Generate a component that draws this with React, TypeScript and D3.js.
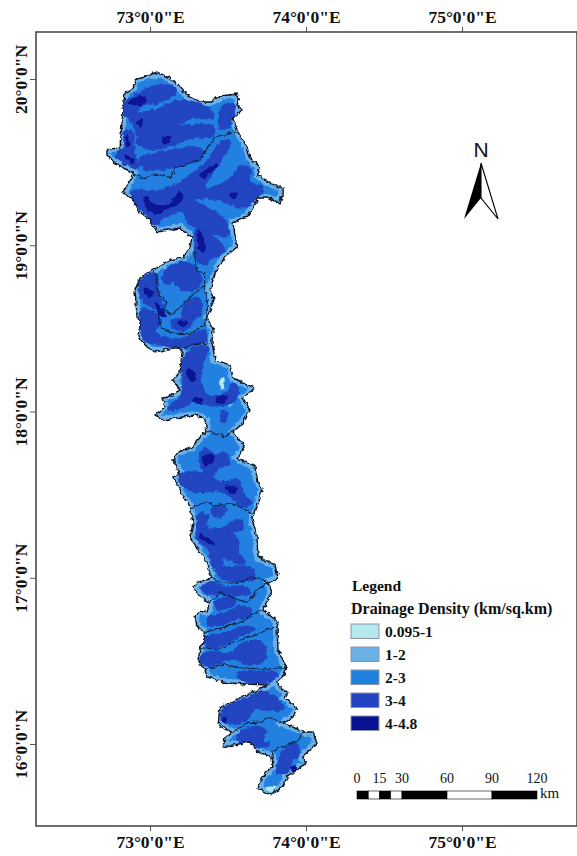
import React, { useEffect, useRef } from 'react';
import * as d3 from 'd3';

type Pt = [number, number];

const lonTicks = [73, 74, 75];
const latTicks = [20, 19, 18, 17, 16];

const legendLabels = ['0.095-1', '1-2', '2-3', '3-4', '4-4.8'];
const legendColors = ['#b6e9ee', '#6cb0e8', '#2080e0', '#2244c2', '#0a1294'];

const scaleKm = [0, 15, 30, 60, 90, 120];
const scaleSegments: [number, number][] = [[0, 7.5], [7.5, 15], [15, 22.5], [22.5, 30], [30, 60], [60, 90], [90, 120]];

// digitised study area outline, lon/lat
const basinOutline: Pt[] = [
  [73.045, 20.042], [73.128, 20.006], [73.179, 19.964], [73.237, 19.904], [73.321, 19.862], [73.385, 19.862],
  [73.449, 19.898], [73.558, 19.91], [73.577, 19.886], [73.558, 19.844], [73.59, 19.814], [73.532, 19.765],
  [73.564, 19.681], [73.622, 19.591], [73.641, 19.525], [73.705, 19.471], [73.692, 19.423], [73.769, 19.374],
  [73.853, 19.344], [73.853, 19.302], [73.833, 19.254], [73.75, 19.284], [73.692, 19.284], [73.66, 19.224],
  [73.622, 19.17], [73.532, 19.134], [73.558, 18.989], [73.481, 18.929], [73.417, 18.833], [73.385, 18.731],
  [73.41, 18.671], [73.365, 18.568], [73.404, 18.49], [73.397, 18.418], [73.417, 18.31], [73.513, 18.28],
  [73.532, 18.201], [73.673, 18.141], [73.596, 18.081], [73.641, 18.009], [73.596, 17.931], [73.532, 17.877],
  [73.609, 17.786], [73.558, 17.72], [73.673, 17.666], [73.692, 17.57], [73.724, 17.54], [73.673, 17.389],
  [73.654, 17.359], [73.686, 17.245], [73.692, 17.125], [73.801, 17.077], [73.821, 16.998], [73.756, 16.968],
  [73.782, 16.914], [73.75, 16.854], [73.724, 16.806], [73.821, 16.734], [73.814, 16.698], [73.821, 16.565],
  [73.878, 16.457], [73.846, 16.397], [73.814, 16.373], [73.846, 16.325], [73.885, 16.313], [73.865, 16.277],
  [73.942, 16.217], [73.917, 16.162], [73.853, 16.126], [73.994, 16.072], [74.045, 16.072], [74.071, 16.006],
  [73.974, 15.922], [74.006, 15.886], [73.878, 15.802], [73.846, 15.741], [73.769, 15.693], [73.692, 15.735],
  [73.737, 15.826], [73.788, 15.862], [73.782, 15.922], [73.692, 15.952], [73.641, 16.012], [73.468, 15.982],
  [73.481, 16.042], [73.526, 16.072], [73.436, 16.114], [73.449, 16.223], [73.596, 16.283], [73.75, 16.355],
  [73.494, 16.367], [73.365, 16.403], [73.353, 16.445], [73.308, 16.505], [73.321, 16.577], [73.353, 16.637],
  [73.34, 16.673], [73.301, 16.716], [73.288, 16.764], [73.321, 16.806], [73.365, 16.794], [73.385, 16.854],
  [73.321, 16.884], [73.276, 16.944], [73.308, 16.974], [73.397, 16.998], [73.353, 17.107], [73.256, 17.245],
  [73.276, 17.329], [73.256, 17.426], [73.212, 17.486], [73.147, 17.606], [73.192, 17.63], [73.147, 17.708],
  [73.179, 17.756], [73.269, 17.786], [73.333, 17.859], [73.365, 17.877], [73.353, 17.949], [73.288, 17.979],
  [73.173, 17.961], [73.083, 17.949], [73.032, 17.979], [73.096, 18.027], [73.077, 18.081], [73.109, 18.087],
  [73.192, 18.129], [73.147, 18.189], [73.192, 18.238], [73.205, 18.352], [73.192, 18.382], [73.147, 18.382],
  [73.032, 18.358], [72.981, 18.388], [72.923, 18.448], [72.936, 18.532], [72.917, 18.568], [72.904, 18.731],
  [72.936, 18.803], [73.019, 18.851], [73.128, 18.911], [73.212, 18.929], [73.256, 18.983], [73.269, 19.05],
  [73.192, 19.104], [73.045, 19.08], [73, 19.152], [72.936, 19.2], [72.885, 19.284], [72.827, 19.314],
  [72.872, 19.392], [72.891, 19.435], [72.763, 19.501], [72.724, 19.543], [72.724, 19.573], [72.808, 19.591],
  [72.827, 19.814], [72.84, 19.916], [72.891, 19.946], [72.904, 19.994],
];

const subbasinBoundaries: Pt[][] = [
  [[72.89, 19.43], [72.96, 19.4], [73.02, 19.43], [73.13, 19.41], [73.17, 19.47], [73.32, 19.51], [73.37, 19.59], [73.42, 19.65], [73.53, 19.68], [73.56, 19.68]],
  [[73.28, 18.97], [73.3, 18.85], [73.35, 18.83], [73.35, 18.76], [73.26, 18.69], [73.14, 18.58], [73.08, 18.61], [73.11, 18.66], [73.05, 18.71], [73.04, 18.81], [73.02, 18.85]],
  [[73.08, 18.61], [73.05, 18.55], [73.08, 18.5], [73.15, 18.47], [73.26, 18.47], [73.35, 18.52], [73.37, 18.67], [73.35, 18.76]],
  [[73.19, 18.37], [73.3, 18.41], [73.4, 18.41]],
  [[73.37, 17.88], [73.45, 17.86], [73.49, 17.85], [73.53, 17.89]],
  [[73.26, 17.42], [73.37, 17.46], [73.4, 17.43], [73.53, 17.45], [73.64, 17.39], [73.67, 17.39]],
  [[73.4, 17.0], [73.45, 16.97], [73.56, 16.97], [73.64, 17.0], [73.69, 17.0], [73.76, 16.97]],
  [[73.38, 16.85], [73.45, 16.91], [73.53, 16.88], [73.63, 16.85], [73.69, 16.93], [73.76, 16.97]],
  [[73.34, 16.67], [73.47, 16.7], [73.6, 16.74], [73.71, 16.81]],
  [[73.32, 16.58], [73.45, 16.57], [73.53, 16.61], [73.66, 16.65], [73.79, 16.7], [73.81, 16.7]],
  [[73.35, 16.45], [73.48, 16.48], [73.56, 16.46], [73.71, 16.45], [73.88, 16.46]],
  [[73.53, 16.07], [73.63, 16.13], [73.71, 16.13], [73.77, 16.16], [73.85, 16.13]],
  [[73.78, 15.92], [73.79, 15.96], [73.93, 16.01], [73.99, 16.07]],
];

// 3-4 km/sq.km zones
const class34Zones: Pt[][] = [
  [[72.85, 19.86], [72.92, 19.9], [73.02, 19.95], [73.15, 19.95], [73.16, 19.92], [73.08, 19.87], [72.94, 19.84], [72.88, 19.77], [72.84, 19.8]],
  [[72.87, 19.77], [73.04, 19.81], [73.17, 19.86], [73.26, 19.86], [73.38, 19.81], [73.4, 19.77], [73.26, 19.77], [73.15, 19.71], [72.94, 19.65], [72.89, 19.74]],
  [[73.13, 19.68], [73.19, 19.71], [73.4, 19.71], [73.4, 19.66], [73.26, 19.65], [73.13, 19.6], [72.96, 19.59], [72.92, 19.63]],
  [[72.94, 19.52], [73.11, 19.56], [73.32, 19.58], [73.33, 19.53], [73.24, 19.5], [73.13, 19.47], [72.98, 19.46], [72.94, 19.49]],
  [[72.84, 19.68], [72.88, 19.68], [72.89, 19.59], [72.9, 19.53], [72.92, 19.47], [72.85, 19.49], [72.79, 19.54], [72.84, 19.59]],
  [[73.47, 19.83], [73.53, 19.84], [73.53, 19.78], [73.49, 19.71], [73.45, 19.71]],
  [[72.89, 19.32], [73.04, 19.32], [73.19, 19.37], [73.28, 19.43], [73.38, 19.51], [73.46, 19.62], [73.51, 19.62], [73.45, 19.51], [73.38, 19.42], [73.35, 19.34], [73.51, 19.39], [73.58, 19.47], [73.64, 19.45], [73.63, 19.38], [73.72, 19.34], [73.66, 19.27], [73.58, 19.23], [73.47, 19.27], [73.34, 19.29], [73.26, 19.27], [73.34, 19.23], [73.47, 19.15], [73.5, 19.07], [73.43, 19.07], [73.34, 19.09], [73.24, 19.15], [73.21, 19.21], [73.08, 19.17], [73.04, 19.13], [72.98, 19.19], [72.92, 19.25]],
  [[73.3, 19.09], [73.4, 19.05], [73.47, 18.97], [73.4, 18.93], [73.35, 18.89], [73.31, 18.91], [73.29, 19.01]],
  [[72.94, 18.78], [73.03, 18.82], [73.05, 18.71], [73.08, 18.61], [72.98, 18.65], [72.94, 18.71]],
  [[72.95, 18.61], [73.06, 18.55], [72.99, 18.46], [72.95, 18.49]],
  [[73.1, 18.84], [73.24, 18.89], [73.32, 18.81], [73.3, 18.75], [73.21, 18.73], [73.15, 18.79], [73.1, 18.77]],
  [[73.26, 18.67], [73.32, 18.67], [73.3, 18.57], [73.21, 18.57]],
  [[72.96, 18.5], [73.06, 18.45], [73.19, 18.43], [73.35, 18.48], [73.35, 18.43], [73.19, 18.39], [73.06, 18.41], [72.97, 18.43]],
  [[73.14, 18.54], [73.26, 18.55], [73.24, 18.5], [73.16, 18.5]],
  [[73.21, 18.29], [73.27, 18.37], [73.37, 18.38], [73.33, 18.29], [73.32, 18.17], [73.37, 18.09], [73.5, 18.11], [73.53, 18.16], [73.56, 18.14], [73.53, 18.06], [73.4, 18.04], [73.28, 18.06], [73.17, 18.02], [73.12, 18.02], [73.19, 18.07], [73.22, 18.16]],
  [[73.46, 17.99], [73.49, 17.99], [73.47, 17.94]],
  [[73.33, 17.76], [73.38, 17.76], [73.42, 17.73], [73.48, 17.75], [73.5, 17.69], [73.43, 17.66], [73.38, 17.61], [73.35, 17.63]],
  [[73.19, 17.61], [73.28, 17.63], [73.37, 17.61], [73.47, 17.57], [73.56, 17.59], [73.59, 17.51], [73.64, 17.45], [73.6, 17.43], [73.51, 17.5], [73.43, 17.53], [73.3, 17.52], [73.21, 17.56]],
  [[73.4, 17.41], [73.48, 17.42], [73.47, 17.38], [73.4, 17.38]],
  [[73.32, 17.38], [73.37, 17.37], [73.35, 17.31], [73.45, 17.29], [73.53, 17.33], [73.58, 17.34], [73.59, 17.3], [73.51, 17.27], [73.56, 17.23], [73.56, 17.15], [73.6, 17.09], [73.56, 17.09], [73.49, 17.12], [73.45, 17.12], [73.48, 17.06], [73.64, 17.06], [73.66, 17.0], [73.47, 17.0], [73.4, 17.09], [73.38, 17.17], [73.31, 17.23], [73.31, 17.3]],
  [[73.34, 16.94], [73.4, 16.97], [73.47, 16.94], [73.6, 16.94], [73.64, 16.91], [73.56, 16.9], [73.45, 16.91], [73.37, 16.91]],
  [[73.42, 16.85], [73.53, 16.88], [73.54, 16.85], [73.45, 16.81]],
  [[73.37, 16.75], [73.51, 16.79], [73.56, 16.82], [73.64, 16.81], [73.64, 16.78], [73.53, 16.75], [73.44, 16.72], [73.38, 16.72]],
  [[73.35, 16.63], [73.48, 16.66], [73.6, 16.7], [73.67, 16.69], [73.58, 16.66], [73.49, 16.61], [73.38, 16.58]],
  [[73.33, 16.52], [73.4, 16.55], [73.51, 16.54], [73.6, 16.6], [73.71, 16.61], [73.74, 16.55], [73.71, 16.49], [73.62, 16.49], [73.53, 16.52], [73.4, 16.48], [73.34, 16.49]],
  [[73.56, 16.42], [73.66, 16.43], [73.81, 16.42], [73.77, 16.38], [73.62, 16.38]],
  [[73.48, 16.21], [73.62, 16.27], [73.71, 16.31], [73.81, 16.27], [73.85, 16.21], [73.75, 16.21], [73.66, 16.21], [73.62, 16.15], [73.49, 16.13], [73.46, 16.16]],
  [[73.56, 16.04], [73.66, 16.1], [73.74, 16.08], [73.71, 16.02], [73.76, 16.0], [73.69, 15.99], [73.59, 16.01]],
  [[73.85, 15.95], [73.93, 15.99], [73.95, 15.95], [73.9, 15.89], [73.88, 15.83], [73.82, 15.83], [73.83, 15.89]],
];

// 4-4.8 km/sq.km zones
const class48Zones: Pt[][] = [
  [[72.86, 19.86], [72.96, 19.9], [72.97, 19.86], [72.9, 19.84]],
  [[72.92, 19.74], [72.95, 19.76], [72.94, 19.71]],
  [[73.08, 19.65], [73.13, 19.65], [73.12, 19.62], [73.08, 19.62]],
  [[72.85, 19.66], [72.87, 19.61], [72.85, 19.59]],
  [[72.84, 19.54], [72.89, 19.52], [72.89, 19.49], [72.86, 19.51]],
  [[73.32, 19.42], [73.43, 19.49], [73.4, 19.45], [73.34, 19.4]],
  [[72.97, 19.29], [73.02, 19.25], [73.11, 19.24], [73.19, 19.32], [73.21, 19.27], [73.11, 19.22], [73.04, 19.19], [72.98, 19.22]],
  [[73.51, 19.31], [73.56, 19.31], [73.54, 19.28]],
  [[73.31, 19.09], [73.34, 19.05], [73.35, 18.97], [73.32, 18.97]],
  [[72.97, 18.75], [73.02, 18.71], [73, 18.69], [72.96, 18.72]],
  [[73.04, 18.65], [73.1, 18.57], [73.05, 18.59]],
  [[73.18, 18.54], [73.24, 18.54], [73.21, 18.51]],
  [[73.24, 18.25], [73.29, 18.23], [73.28, 18.18], [73.24, 18.2]],
  [[73.28, 18.09], [73.34, 18.07], [73.32, 18.05], [73.28, 18.06]],
  [[73.43, 18.09], [73.49, 18.09], [73.47, 18.05], [73.42, 18.06]],
  [[73.34, 17.73], [73.4, 17.74], [73.4, 17.69], [73.35, 17.68]],
  [[73.48, 17.55], [73.56, 17.54], [73.53, 17.51]],
  [[73.32, 17.26], [73.38, 17.23], [73.42, 17.2], [73.35, 17.22]],
  [[73.47, 16.16], [73.49, 16.16], [73.48, 16.13]],
  [[73.9, 15.86], [73.94, 15.86], [73.92, 15.83]],
];

// 0.095-1 km/sq.km zones
const class01Zones: Pt[][] = [
  [[73.74, 15.74], [73.81, 15.74], [73.77, 15.71]],
  [[73.45, 18.2], [73.47, 18.2], [73.46, 18.13]],
  [[73.5, 18.06], [73.54, 18.05], [73.51, 18.03]],
];

const lonScale = d3.scaleLinear().domain([73, 75]).range([150, 462]);
const latScale = d3.scaleLinear().domain([20, 16]).range([79, 744]);

const App = () => {
  const svgRef = useRef<SVGSVGElement>(null);

  useEffect(() => {
    const svg = d3.select(svgRef.current);
    svg.selectAll('*').remove();

    const serif = '"Liberation Serif", serif';
    const frame = { left: 36, top: 32, right: 577, bottom: 826 };

    const defs = svg.append('defs');
    const rough = defs.append('filter').attr('id', 'rough')
      .attr('x', '-5%').attr('y', '-5%').attr('width', '110%').attr('height', '110%');
    rough.append('feTurbulence').attr('type', 'fractalNoise').attr('baseFrequency', 0.22)
      .attr('numOctaves', 2).attr('seed', 4).attr('result', 'n');
    rough.append('feDisplacementMap').attr('in', 'SourceGraphic').attr('in2', 'n')
      .attr('scale', 5).attr('xChannelSelector', 'R').attr('yChannelSelector', 'G').attr('result', 'd');
    rough.append('feGaussianBlur').attr('in', 'd').attr('stdDeviation', 0.6);

    const project = (d: Pt): [number, number] => [lonScale(d[0]), latScale(d[1])];
    const jagged = d3.line<Pt>().x(d => project(d)[0]).y(d => project(d)[1]);
    const blob = d3.line<Pt>().x(d => project(d)[0]).y(d => project(d)[1]).curve(d3.curveCatmullRomClosed.alpha(0.5));

    const outlinePath = jagged(basinOutline) + 'Z';
    defs.append('clipPath').attr('id', 'basin').append('path').attr('d', outlinePath);

    // Map
    const map = svg.append('g').attr('filter', 'url(#rough)');
    const inner = map.append('g').attr('clip-path', 'url(#basin)');
    inner.append('path').attr('d', outlinePath).attr('fill', legendColors[2])
      .attr('stroke', legendColors[1]).attr('stroke-width', 8);

    const zones: [Pt[][], string, number][] = [
      [class01Zones, legendColors[0], 0],
      [class34Zones, legendColors[3], 3.5],
      [class48Zones, legendColors[4], 0.8],
    ];
    zones.forEach(([list, color, grow]) => {
      inner.selectAll(null).data(list).enter().append('path')
        .attr('d', d => blob(d))
        .attr('fill', color)
        .attr('stroke', color)
        .attr('stroke-width', grow)
        .attr('stroke-linejoin', 'round');
    });

    map.selectAll('.sub').data(subbasinBoundaries).enter().append('path')
      .attr('class', 'sub')
      .attr('d', d => jagged(d))
      .attr('fill', 'none')
      .attr('stroke', '#10213f')
      .attr('stroke-width', 1.1);
    map.append('path').attr('d', outlinePath)
      .attr('fill', 'none').attr('stroke', '#0d1522').attr('stroke-width', 1.4);

    // Frame and graticule ticks
    svg.append('rect')
      .attr('x', frame.left).attr('y', frame.top)
      .attr('width', frame.right - frame.left).attr('height', frame.bottom - frame.top)
      .attr('fill', 'none').attr('stroke', '#333').attr('stroke-width', 1.4);

    const lonFmt = (d: d3.NumberValue) => `${d}°0'0"E`;
    const latFmt = (d: d3.NumberValue) => `${d}°0'0"N`;

    const styleAxis = (g: d3.Selection<SVGGElement, unknown, null, undefined>) => {
      g.select('.domain').remove();
      g.selectAll('line').attr('stroke', '#555');
      g.selectAll('text')
        .attr('fill', '#111')
        .style('font-family', serif)
        .style('font-weight', 'bold')
        .style('font-size', '17.5px');
    };

    svg.append('g').attr('transform', `translate(0,${frame.top})`)
      .call(d3.axisTop(lonScale).tickValues(lonTicks).tickSize(5).tickPadding(4).tickFormat(lonFmt))
      .call(styleAxis);
    svg.append('g').attr('transform', `translate(0,${frame.bottom})`)
      .call(d3.axisBottom(lonScale).tickValues(lonTicks).tickSize(5).tickPadding(5).tickFormat(lonFmt))
      .call(styleAxis);
    svg.append('g').attr('transform', `translate(${frame.left},0)`)
      .call(d3.axisLeft(latScale).tickValues(latTicks).tickSize(6).tickPadding(0).tickFormat(latFmt))
      .call(styleAxis)
      .selectAll('text')
      .attr('text-anchor', 'middle')
      .attr('dy', 0)
      .attr('x', 0)
      .attr('y', 0)
      .attr('transform', 'translate(-9,0) rotate(-90)');

    // North arrow
    const north = svg.append('g');
    north.append('text').attr('x', 481).attr('y', 157).attr('text-anchor', 'middle')
      .style('font-family', '"Liberation Sans", sans-serif').style('font-size', '21px').attr('fill', '#111').text('N');
    north.append('path').attr('d', 'M481,163 L464,219 L481,198 Z').attr('fill', '#000');
    north.append('path').attr('d', 'M481,163 L498,219 L481,198 Z').attr('fill', '#fff').attr('stroke', '#000').attr('stroke-width', 1.1);

    // Legend
    const legend = svg.append('g').style('font-family', serif).style('font-weight', 'bold').attr('fill', '#111');
    legend.append('text').attr('x', 352).attr('y', 591).style('font-size', '15.5px').text('Legend');
    legend.append('text').attr('x', 351).attr('y', 614).style('font-size', '16px').text('Drainage Density (km/sq.km)');
    legendLabels.forEach((label, i) => {
      const y = 624 + i * 23;
      legend.append('rect').attr('x', 351).attr('y', y).attr('width', 28).attr('height', 14.5)
        .attr('fill', legendColors[i]).attr('stroke', '#8a94a8').attr('stroke-width', 1);
      legend.append('text').attr('x', 385).attr('y', y + 13).style('font-size', '15.5px').text(label);
    });

    // Scale bar
    const kmScale = d3.scaleLinear().domain([0, 120]).range([357, 537]);
    const bar = svg.append('g').style('font-family', serif).attr('fill', '#111');
    scaleSegments.forEach(([a, b], i) => {
      bar.append('rect').attr('x', kmScale(a)).attr('y', 791).attr('width', kmScale(b) - kmScale(a)).attr('height', 8)
        .attr('fill', i % 2 === 0 ? '#000' : '#fff').attr('stroke', '#000').attr('stroke-width', 0.6);
    });
    scaleKm.forEach(km => {
      bar.append('text').attr('x', kmScale(km)).attr('y', 783).attr('text-anchor', 'middle')
        .style('font-size', '14px').text(km);
    });
    bar.append('text').attr('x', 540).attr('y', 798).style('font-size', '15px').text('km');
  }, []);

  return (
    <svg ref={svgRef} width={577} height={856}
      style={{ position: 'absolute', left: 0, top: 0, background: '#fff' }} />
  );
};

export default App;
